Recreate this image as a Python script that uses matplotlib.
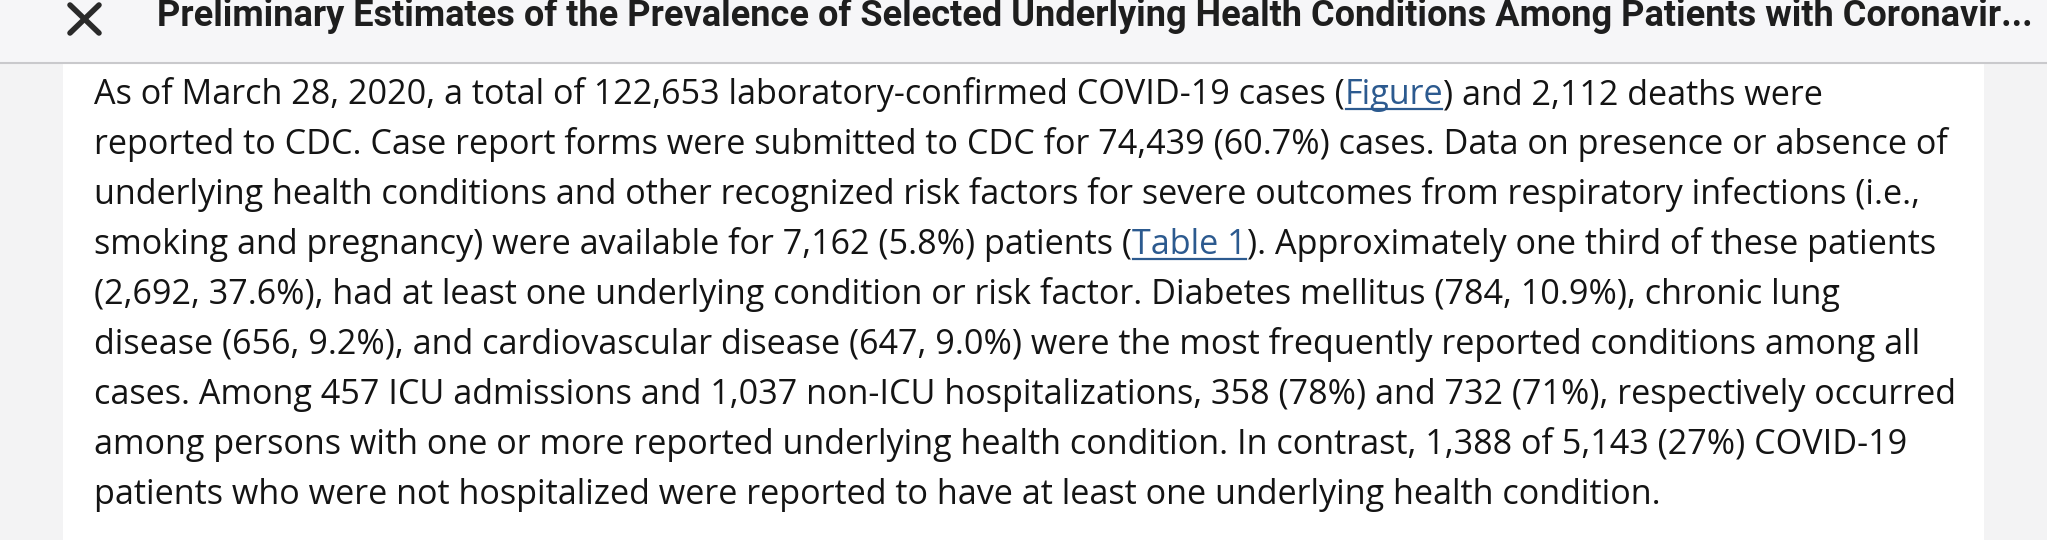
import matplotlib
matplotlib.use("Agg")
import matplotlib.pyplot as plt
from matplotlib.patches import Rectangle

W, H = 2047, 540

title = ("Preliminary Estimates of the Prevalence of Selected Underlying Health "
         "Conditions Among Patients with Coronavir...")

# each line is a list of (text, is_link) runs
body_lines = [
    [("As of March 28, 2020, a total of 122,653 laboratory-confirmed COVID-19 cases (", False),
     ("Figure", True), (") and 2,112 deaths were", False)],
    [("reported to CDC. Case report forms were submitted to CDC for 74,439 (60.7%) cases. Data on presence or absence of", False)],
    [("underlying health conditions and other recognized risk factors for severe outcomes from respiratory infections (i.e.,", False)],
    [("smoking and pregnancy) were available for 7,162 (5.8%) patients (", False),
     ("Table 1", True), ("). Approximately one third of these patients", False)],
    [("(2,692, 37.6%), had at least one underlying condition or risk factor. Diabetes mellitus (784, 10.9%), chronic lung", False)],
    [("disease (656, 9.2%), and cardiovascular disease (647, 9.0%) were the most frequently reported conditions among all", False)],
    [("cases. Among 457 ICU admissions and 1,037 non-ICU hospitalizations, 358 (78%) and 732 (71%), respectively occurred", False)],
    [("among persons with one or more reported underlying health condition. In contrast, 1,388 of 5,143 (27%) COVID-19", False)],
    [("patients who were not hospitalized were reported to have at least one underlying health condition.", False)],
]

text_col = "#141414"
link_col = "#2c5a8f"

fig = plt.figure(figsize=(W / 100, H / 100), dpi=100, facecolor="#f3f3f4")
ax = fig.add_axes([0, 0, 1, 1])
ax.set_xlim(0, W)
ax.set_ylim(H, 0)
ax.axis("off")

# panels
ax.add_patch(Rectangle((63, 63), 1921, H - 63, facecolor="white", edgecolor="none"))
ax.add_patch(Rectangle((0, 0), W, 63, facecolor="#f6f6f8", edgecolor="none"))
ax.plot([0, W], [63, 63], color="#c9c9cc", lw=1.5)

# close icon
ax.plot([70, 99], [5, 33], color="#2a2a2a", lw=4, solid_capstyle="round")
ax.plot([70, 99], [33, 5], color="#2a2a2a", lw=4, solid_capstyle="round")

fig.canvas.draw()
r = fig.canvas.get_renderer()

def fit_size(s, family, weight, target):
    t = ax.text(0, 0, s, fontsize=20, family=family, weight=weight)
    w = t.get_window_extent(r).width
    t.remove()
    return 20 * target / w

tsize = fit_size(title, "Roboto", "bold", 1870)
ax.text(157, 26, title, fontsize=tsize, family="Roboto", weight="bold",
        color="#1e1e1e", va="baseline")

bsize = fit_size(body_lines[1][0][0], "Open Sans", "normal", 1849)
y = 104
for line in body_lines:
    x = 94
    for s, link in line:
        t = ax.text(x, y, s, fontsize=bsize, family="Open Sans",
                    color=link_col if link else text_col, va="baseline")
        w = t.get_window_extent(r).width
        if link:
            ax.plot([x + 1, x + w - 1], [y + 5, y + 5], color=link_col, lw=1.6)
        x += w
    y += 50

fig.savefig("out.png", dpi=100, facecolor=fig.get_facecolor())
